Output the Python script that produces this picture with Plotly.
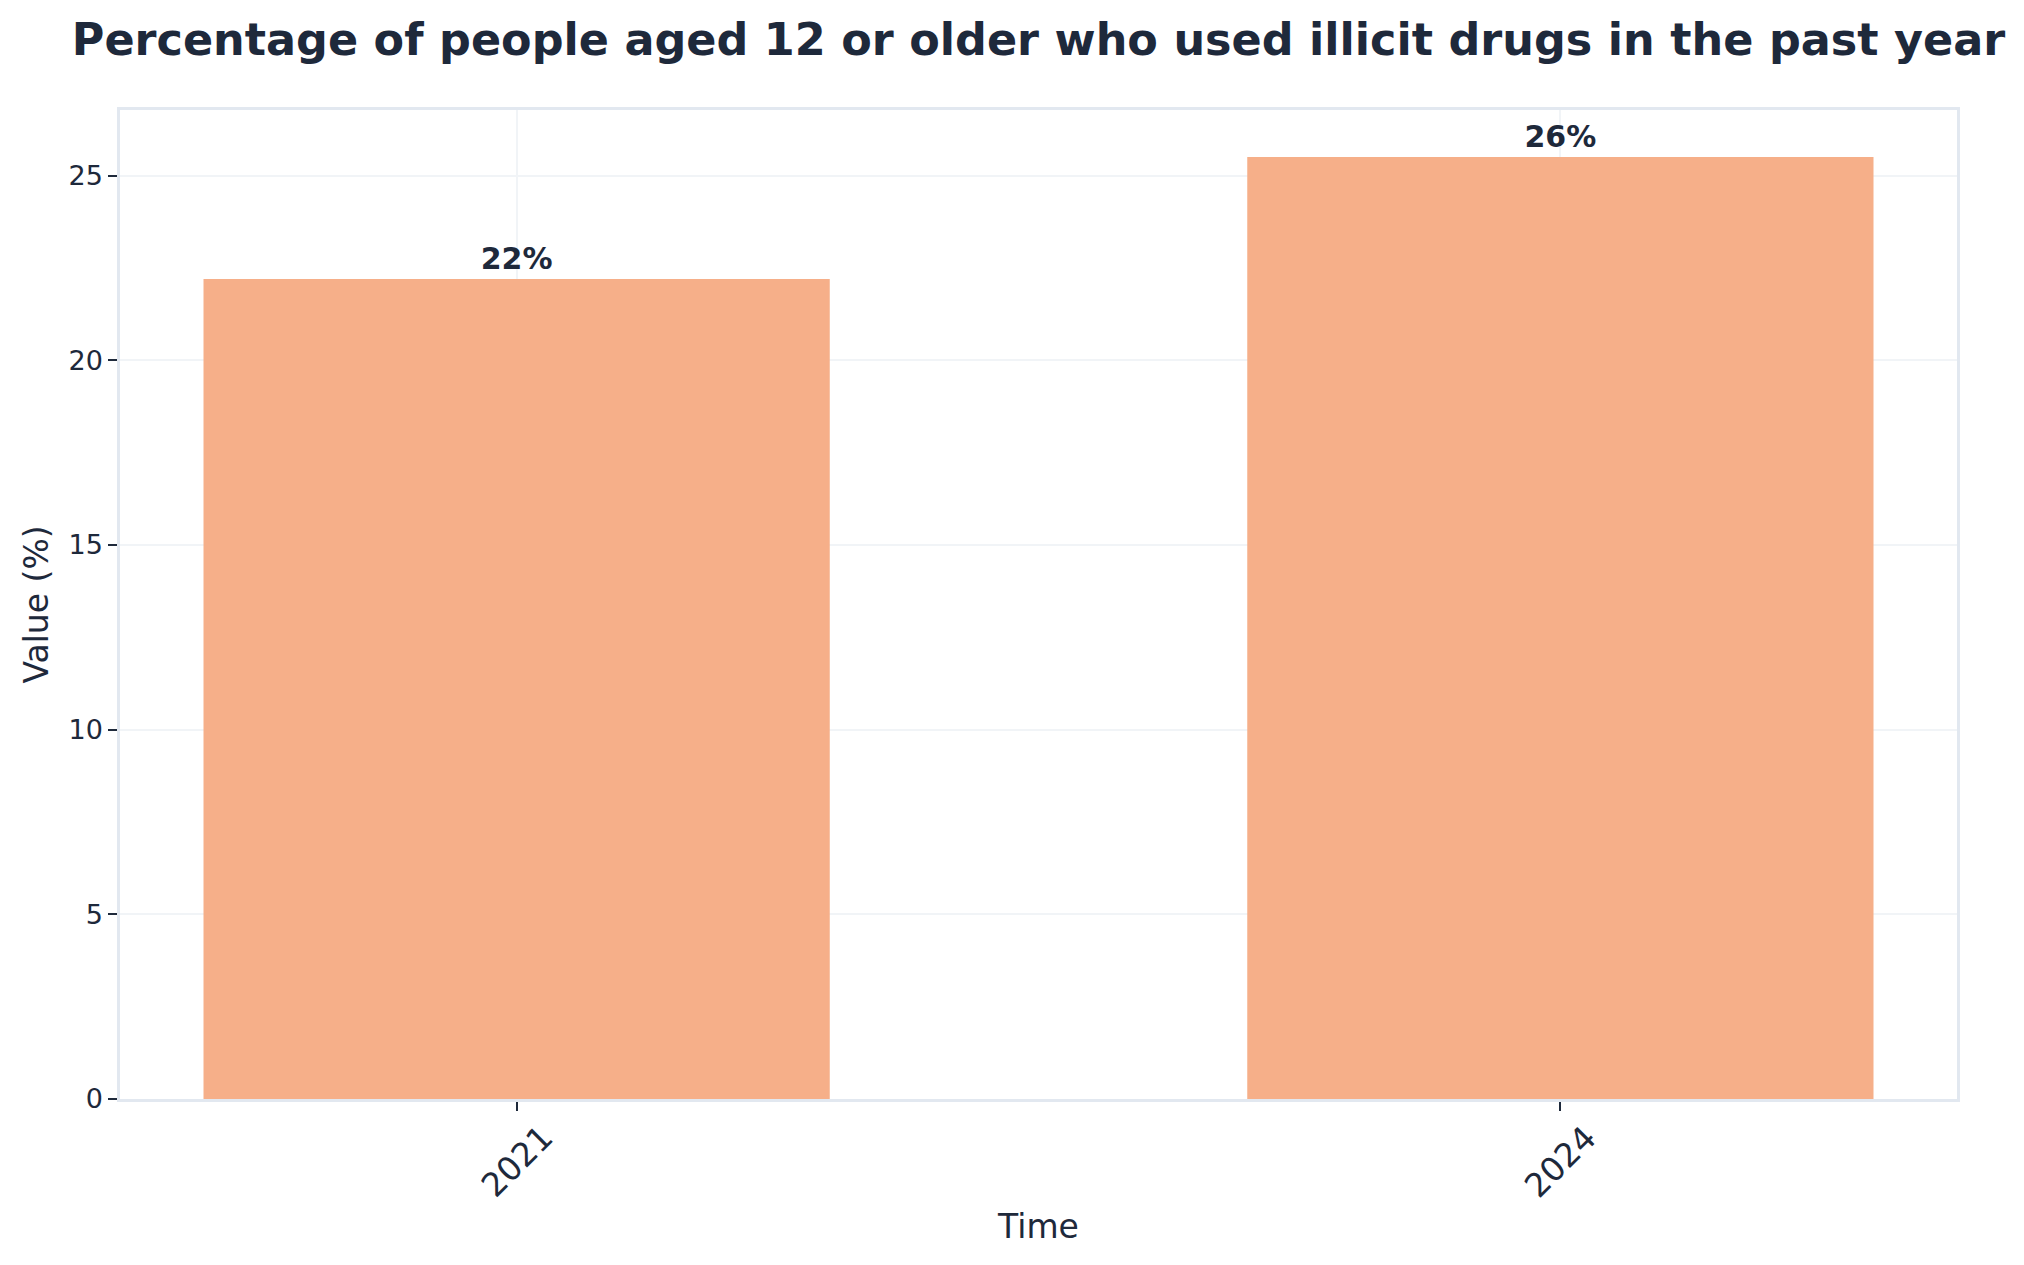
import plotly.graph_objects as go

# data
years = ["2021", "2024"]
values = [22.2, 25.5]
labels = ["22%", "26%"]

INK = "#1e293b"
EDGE = "#e2e8f0"
BAR = "#f6af89"
FONT = "DejaVu Sans"

fig = go.Figure()
fig.add_trace(go.Bar(
    x=years,
    y=values,
    width=0.6,
    marker=dict(color=BAR, line=dict(width=0)),
    text=labels,
    textposition="outside",
    textfont=dict(family=FONT, size=30, color=INK, weight="bold"),
    cliponaxis=False,
    hoverinfo="x+y",
))

# rotated year labels, centred under each tick like the original
# (category axis: position by index so "2021" isn't read as a number)
for i, yr in enumerate(years):
    fig.add_annotation(
        x=i, xref="x", y=0, yref="paper",
        text=yr, showarrow=False, textangle=-45,
        xanchor="center", yanchor="top", yshift=-16,
        font=dict(family=FONT, size=33, color=INK),
    )

fig.update_layout(
    width=2024,
    height=1265,
    margin=dict(l=112, r=75, t=102, b=174),
    paper_bgcolor="white",
    plot_bgcolor="white",
    font=dict(family=FONT, color=INK),
    showlegend=False,
    title=dict(
        text="<b>Percentage of people aged 12 or older who used illicit drugs in the past year</b>",
        x=0.5, xref="paper", xanchor="center",
        y=1 - 31 / 1265, yref="container", yanchor="middle",
        font=dict(family=FONT, size=44.5, color=INK),
    ),
)

fig.update_xaxes(
    type="category",
    range=[-0.38, 1.38],
    title=dict(text="Time", font=dict(size=33, color=INK), standoff=106),
    showticklabels=False,
    ticks="outside", ticklen=9, tickwidth=2, tickcolor=INK,
    showgrid=True, gridcolor="#f1f4f7", gridwidth=1.5,
    showline=True, linecolor=EDGE, linewidth=2.5, mirror=True,
    automargin=False,
)
fig.update_yaxes(
    range=[0, 26.775],
    dtick=5,
    title=dict(text="Value (%)", font=dict(size=33, color=INK), standoff=10),
    tickfont=dict(size=27, color=INK),
    ticks="outside", ticklen=9, tickwidth=2, tickcolor=INK,
    showgrid=True, gridcolor="#f1f4f7", gridwidth=1.5,
    zeroline=False,
    showline=True, linecolor=EDGE, linewidth=2.5, mirror=True,
    automargin=False,
)

fig.write_html("out.html")
